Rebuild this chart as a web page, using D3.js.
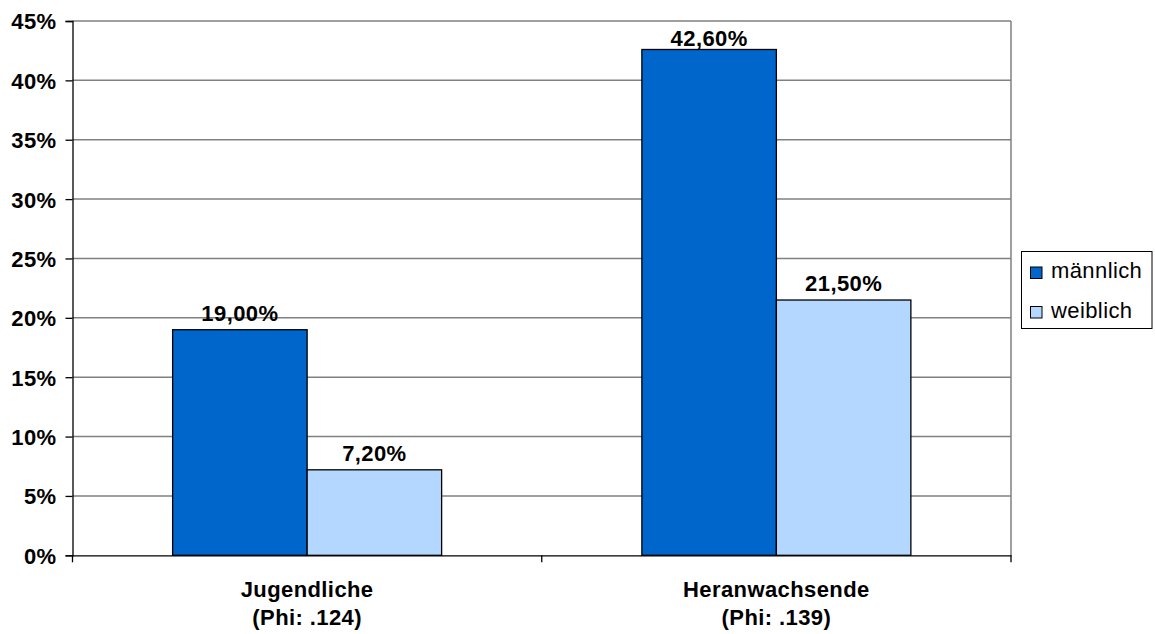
<!DOCTYPE html>
<html>
<head>
<meta charset="utf-8">
<script src="https://cdn.jsdelivr.net/npm/d3@7"></script>
<style>
  body { margin: 0; background: #fff; }
  text { font-family: Arial, "Liberation Sans", sans-serif; }
</style>
</head>
<body>
<svg id="chart" width="1155" height="634"></svg>
<script>
const categories = ["Jugendliche", "Heranwachsende"];
const categorySub = ["(Phi: .124)", "(Phi: .139)"];
const seriesNames = ["männlich", "weiblich"];
const maennlich = [19.0, 42.6];
const weiblich = [7.2, 21.5];
const yTicks = [0, 5, 10, 15, 20, 25, 30, 35, 40, 45];
const colors = ["#0066CC", "#B3D7FF"];

const series = [maennlich, weiblich];
const svg = d3.select("#chart");
const plot = { left: 72.5, right: 1011, top: 21, bottom: 555.3 };
const FS = 22;
const LS = "0.4px";

const x0 = d3.scaleBand().domain(categories).range([plot.left, plot.right]).paddingInner(0).paddingOuter(0);
const barW = 134.5;
const y = d3.scaleLinear().domain([0, 45]).range([plot.bottom, plot.top]);

// gridlines
svg.append("g").selectAll("line").data(yTicks.filter(t => t > 0)).join("line")
  .attr("x1", plot.left).attr("x2", plot.right)
  .attr("y1", d => y(d)).attr("y2", d => y(d))
  .attr("stroke", "#808080").attr("stroke-width", 1.5);
// right border
svg.append("line").attr("x1", plot.right).attr("x2", plot.right)
  .attr("y1", plot.top).attr("y2", plot.bottom)
  .attr("stroke", "#808080").attr("stroke-width", 1.5);

// bars
categories.forEach((c, ci) => {
  const cx = x0(c) + x0.bandwidth() / 2;
  series.forEach((s, si) => {
    const bx = cx - barW + si * barW;
    svg.append("rect")
      .attr("x", bx).attr("y", y(s[ci]))
      .attr("width", barW).attr("height", y(0) - y(s[ci]))
      .attr("fill", colors[si]).attr("stroke", "#000").attr("stroke-width", 1.3);
    const ly = Math.max(y(s[ci]) - 9, plot.top + 25);
    svg.append("text")
      .attr("x", bx + barW / 2).attr("y", ly)
      .attr("text-anchor", "middle")
      .attr("font-size", FS).attr("font-weight", "bold")
      .style("letter-spacing", LS)
      .text(s[ci].toFixed(2).replace(".", ",") + "%");
  });
});

// y axis
const yAxis = d3.axisLeft(y).tickValues(yTicks).tickSize(7).tickPadding(9).tickFormat(d => d + "%");
const ya = svg.append("g").attr("transform", `translate(${plot.left},0)`).call(yAxis);
ya.select(".domain").attr("stroke", "#000").attr("stroke-width", 1.3);
ya.selectAll(".tick line").attr("stroke", "#000").attr("stroke-width", 1.3);
ya.selectAll(".tick text").attr("font-size", FS).attr("font-weight", "bold")
  .attr("font-family", "Arial, 'Liberation Sans', sans-serif").attr("fill", "#000")
  .attr("dy", "0.36em").style("letter-spacing", LS);

// x axis
const xa = svg.append("g").attr("transform", `translate(0,${plot.bottom})`)
  .call(d3.axisBottom(x0).tickSize(0).tickFormat(""));
xa.select(".domain").attr("stroke", "#000").attr("stroke-width", 1.3);
xa.selectAll(".tick").remove();
// category boundary ticks
const bounds = [plot.left, ...categories.map(c => x0(c) + x0.bandwidth())];
svg.append("g").selectAll("line").data(bounds).join("line")
  .attr("x1", d => d).attr("x2", d => d)
  .attr("y1", plot.bottom).attr("y2", plot.bottom + 7)
  .attr("stroke", "#000").attr("stroke-width", 1.3);

// category labels
categories.forEach((c, ci) => {
  const cx = x0(c) + x0.bandwidth() / 2;
  const t = svg.append("text").attr("text-anchor", "middle")
    .attr("font-size", FS).attr("font-weight", "bold").style("letter-spacing", LS);
  t.append("tspan").attr("x", cx).attr("y", 597).text(c);
  t.append("tspan").attr("x", cx).attr("y", 625).text(categorySub[ci]);
});

// legend
const lg = svg.append("g");
lg.append("rect").attr("x", 1021.5).attr("y", 251.5).attr("width", 130.5).attr("height", 77)
  .attr("fill", "#fff").attr("stroke", "#000").attr("stroke-width", 1);
seriesNames.forEach((n, i) => {
  const yy = 267 + i * 39.5;
  lg.append("rect").attr("x", 1030.5).attr("y", yy).attr("width", 11.5).attr("height", 11.5)
    .attr("fill", colors[i]).attr("stroke", "#000").attr("stroke-width", 1);
  lg.append("text").attr("x", 1051).attr("y", yy + 11)
    .attr("font-size", FS).style("letter-spacing", LS).text(n);
});
</script>
</body>
</html>
